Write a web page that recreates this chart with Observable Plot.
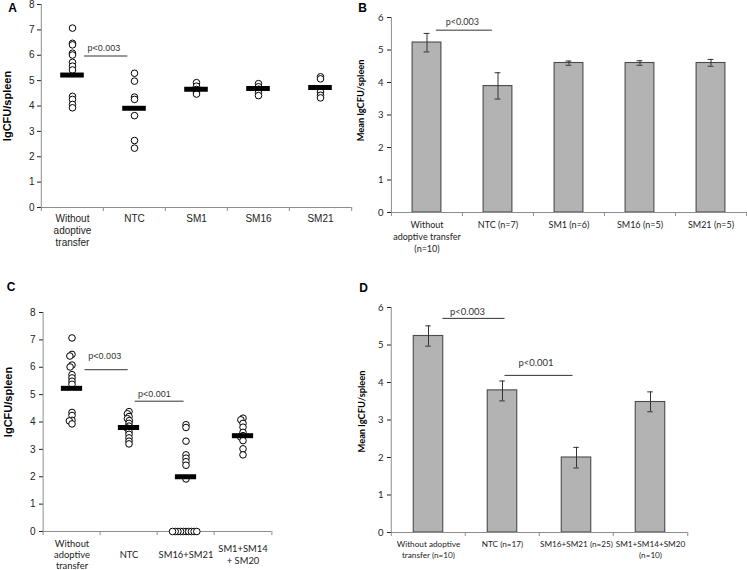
<!DOCTYPE html>
<html><head><meta charset="utf-8">
<script src="https://cdn.jsdelivr.net/npm/d3@7"></script>
<script src="https://cdn.jsdelivr.net/npm/@observablehq/plot@0.6"></script>
<style>
body{margin:0;background:#fff}
#wrap{position:relative;width:747px;height:570px;overflow:hidden;background:#fff}
#wrap svg{position:absolute;overflow:visible;max-width:none}
g[aria-label="y-axis tick"]{stroke:#8c8c8c}
.tick line{stroke:#8c8c8c}
</style></head><body><div id="wrap"></div>
<script>
// ---------- Panel A (dot plot) ----------
const catsA = ["Without adoptive transfer", "NTC", "SM1", "SM16", "SM21"];
const tickLabelsA = ["Without\nadoptive\ntransfer", "NTC", "SM1", "SM16", "SM21"];
const aWithout = [7.07, 6.47, 6.41, 6.08, 6.01, 5.72, 5.57, 5.42, 4.38, 4.26, 4.06, 3.93];
const aNTC = [5.29, 4.98, 4.35, 4.26, 3.62, 2.64, 2.34];
const aSM1 = [4.92, 4.78, 4.65, 4.55, 4.47];
const aSM16 = [4.88, 4.76, 4.66, 4.52, 4.41];
const aSM21 = [5.15, 5.07, 4.55, 4.42, 4.32];
const meanA = [5.22, 3.91, 4.66, 4.69, 4.73];
const sigTextA = ["p<0.003"], sigFromA = [0.19], sigToA = [0.89], sigLineA = [5.97], sigTextXA = [0.51], sigTextYA = [6.30];

// ---------- Panel B (bar chart) ----------
const catsB = ["Without adoptive transfer", "NTC", "SM1", "SM16", "SM21"];
const tickLabelsB = ["Without\nadoptive transfer\n(n=10)", "NTC (n=7)", "SM1 (n=6)", "SM16 (n=5)", "SM21 (n=5)"];
const meanB = [5.23, 3.89, 4.60, 4.60, 4.60];
const errLoB = [4.94, 3.49, 4.53, 4.53, 4.50];
const errHiB = [5.51, 4.30, 4.66, 4.67, 4.71];
const sigTextB = ["p<0.003"], sigFromB = [0.13], sigToB = [0.92], sigLineB = [5.61], sigTextXB = [0.50], sigTextYB = [5.85];

// ---------- Panel C (dot plot) ----------
const catsC = ["Without adoptive transfer", "NTC", "SM16+SM21", "SM1+SM14+SM20"];
const tickLabelsC = ["Without\nadoptive\ntransfer", "NTC", "SM16+SM21", "SM1+SM14\n+ SM20"];
const cWithout = [7.07, 6.47, 6.41, 6.08, 6.01, 5.73, 5.61, 5.49, 5.38, 4.35, 4.24, 4.06, 4.04, 3.93];
const cNTC = [4.38, 4.30, 4.20, 4.12, 4.05, 3.95, 3.85, 3.78, 3.65, 3.55, 3.42, 3.30, 3.20];
const cSM16SM21 = [3.90, 3.80, 3.30, 2.80, 2.68, 2.55, 2.42, 1.92, 0, 0, 0, 0, 0, 0, 0, 0, 0, 0];
const cSM1SM14SM20 = [4.14, 4.08, 3.95, 3.81, 3.62, 3.50, 3.45, 3.32, 3.02, 2.80];
const meanC = [5.23, 3.80, 2.00, 3.50];
const sigTextC = ["p<0.003", "p<0.001"], sigFromC = [0.22, 1.10], sigToC = [0.98, 1.96], sigLineC = [5.91, 4.76], sigTextXC = [0.58, 1.44], sigTextYC = [6.42, 5.03];

// ---------- Panel D (bar chart) ----------
const catsD = ["Without adoptive transfer", "NTC", "SM16+SM21", "SM1+SM14+SM20"];
const tickLabelsD = ["Without adoptive\ntransfer (n=10)", "NTC (n=17)", "SM16+SM21 (n=25)", "SM1+SM14+SM20\n(n=10)"];
const meanD = [5.24, 3.79, 2.00, 3.48];
const errLoD = [4.97, 3.51, 1.72, 3.22];
const errHiD = [5.51, 4.04, 2.27, 3.75];
const sigTextD = ["p<0.003", "p<0.001"], sigFromD = [0.19, 1.03], sigToD = [1.03, 1.95], sigLineD = [5.71, 4.19], sigTextXD = [0.53, 1.45], sigTextYD = [5.89, 4.53];

// ---------- helpers ----------
const AX = "#8c8c8c", INK = "#222", LINE = "#333";
const ARIAL = "Liberation Sans, Arial, sans-serif";
const CAL = "Lato, Carlito, Calibri, sans-serif";

function frameMarks(cats, bw, ymax) {
  const n = cats.length;
  return [
    Plot.ruleY([0], {x1: null, x2: null, stroke: AX}),
    Plot.ruleX([cats[0]], {x: null, fx: d => d, dx: -bw / 2, y1: 0, y2: ymax, stroke: AX}),
    Plot.ruleX(cats, {x: null, fx: d => d, dx: -bw / 2, y1: 0, y2: 0, insetBottom: -4, stroke: AX}),
    Plot.ruleX([cats[n - 1]], {x: null, fx: d => d, dx: bw / 2, y1: 0, y2: 0, insetBottom: -4, stroke: AX})
  ];
}
function sigMarks(cats, bw, texts, from, to, lineY, textX, textY, font) {
  return texts.flatMap((t, i) => {
    const k = Math.round(from[i]);
    const kt = Math.round(textX[i]);
    return [
      Plot.ruleY([lineY[i]], {fx: () => cats[k], insetLeft: (from[i] - k + 0.5) * bw, insetRight: (k + 0.5 - to[i]) * bw, stroke: LINE}),
      Plot.text([t], {x: null, fx: () => cats[kt], y: () => textY[i], text: d => d, dx: (textX[i] - kt) * bw, fill: LINE, ...font})
    ];
  });
}
function place(svg, left, top) {
  svg.style.left = left + "px";
  svg.style.top = top + "px";
  document.getElementById("wrap").appendChild(svg);
}
function titleMarks(cats, letter, title, lx, ly, tx, ty, titleFont) {
  return [
    Plot.text([letter], {x: null, y: null, fx: () => cats[0], frameAnchor: "top-left", dx: lx, dy: ly, text: d => d, textAnchor: "middle", lineAnchor: "middle", fontWeight: "bold", fontSize: 12, fontFamily: ARIAL, fill: "#000"}),
    Plot.text([title], {x: null, y: null, fx: () => cats[0], frameAnchor: "left", dx: tx, dy: ty, text: d => d, rotate: -90, textAnchor: "middle", lineAnchor: "middle", fontWeight: "bold", fill: "#000", ...titleFont})
  ];
}
function tickLabelMarks(cats, labels, opts) {
  return Plot.text(cats, {x: null, y: null, fx: d => d, text: (d, i) => labels[i], frameAnchor: "bottom", fill: INK, ...opts});
}
const groupRows = (cats, groups) => cats.flatMap((c, i) => groups[i].map(v => ({g: c, v})));
const barRows = (cats, mean, lo, hi) => cats.map((c, i) => ({g: c, v: mean[i], lo: lo[i], hi: hi[i]}));

// ---------- Panel A ----------
{
  const W = 373, H = 285, ml = 40, mr = 21, mt = 4, mb = 78;
  const bw = (W - ml - mr) / catsA.length;
  const pts = groupRows(catsA, [aWithout, aNTC, aSM1, aSM16, aSM21]);
  const means = catsA.map((c, i) => ({g: c, v: meanA[i]}));
  const svg = Plot.plot({
    width: W, height: H, marginLeft: ml, marginRight: mr, marginTop: mt, marginBottom: mb,
    style: {fontFamily: ARIAL, fontSize: "10px", color: INK, background: "transparent", overflow: "visible"},
    fx: {domain: catsA, padding: 0, axis: null, label: null},
    y: {domain: [0, 8], ticks: 8, tickSize: 4, tickPadding: 3, label: null},
    marks: [
      ...frameMarks(catsA, bw, 8),
      Plot.dot(pts, {x: null, fx: "g", y: "v", r: 3.3, fill: "white", stroke: "black", strokeWidth: 1}),
      Plot.tickY(means, {fx: "g", y: "v", stroke: "black", strokeWidth: 5, insetLeft: (bw - 24) / 2, insetRight: (bw - 24) / 2}),
      ...sigMarks(catsA, bw, sigTextA, sigFromA, sigToA, sigLineA, sigTextXA, sigTextYA, {fontFamily: ARIAL, fontSize: 9}),
      tickLabelMarks(catsA, tickLabelsA, {lineAnchor: "top", dy: 5.8, lineHeight: 1.2, fontFamily: ARIAL, fontSize: 10}),
      ...titleMarks(catsA, "A", "lgCFU/spleen", -29, 4, -34, 0, {fontFamily: ARIAL, fontSize: 11})
    ]
  });
  place(svg, 0, 0);
}

// ---------- Panel B ----------
{
  const W = 392, H = 285, ml = 35, mr = 1, mt = 17, mb = 73;
  const bw = (W - ml - mr) / catsB.length;
  const rows = barRows(catsB, meanB, errLoB, errHiB);
  const ins = (bw - 29) / 2, cap = (bw - 6) / 2;
  const svg = Plot.plot({
    width: W, height: H, marginLeft: ml, marginRight: mr, marginTop: mt, marginBottom: mb,
    style: {fontFamily: CAL, fontSize: "9.5px", color: INK, background: "transparent", overflow: "visible"},
    fx: {domain: catsB, padding: 0, axis: null, label: null},
    y: {domain: [0, 6], ticks: 6, tickSize: 4, tickPadding: 4, label: null},
    marks: [
      Plot.barY(rows, {fx: "g", y: "v", fill: "#b3b3b3", stroke: "#4a4a4a", strokeWidth: 1.1, insetLeft: ins, insetRight: ins}),
      ...frameMarks(catsB, bw, 6),
      Plot.ruleX(rows, {x: null, fx: "g", y1: "lo", y2: "hi", stroke: LINE}),
      Plot.tickY(rows, {fx: "g", y: "lo", stroke: LINE, insetLeft: cap, insetRight: cap}),
      Plot.tickY(rows, {fx: "g", y: "hi", stroke: LINE, insetLeft: cap, insetRight: cap}),
      ...sigMarks(catsB, bw, sigTextB, sigFromB, sigToB, sigLineB, sigTextXB, sigTextYB, {fontFamily: CAL, fontSize: 9}),
      tickLabelMarks(catsB, tickLabelsB, {lineAnchor: "top", dy: 6.3, lineHeight: 1.36, fontFamily: CAL, fontSize: 9}),
      ...titleMarks(catsB, "B", "Mean lgCFU/spleen", -29, -9.5, -30, -14.6, {fontFamily: CAL, fontSize: 9.3})
    ]
  });
  place(svg, 355, 0);
}

// ---------- Panel C ----------
{
  const W = 373, H = 285, ml = 41, mr = 101, mt = 27, mb = 39;
  const bw = (W - ml - mr) / catsC.length;
  const pts = groupRows(catsC, [cWithout, cNTC, cSM16SM21, cSM1SM14SM20]);
  const means = catsC.map((c, i) => ({g: c, v: meanC[i]}));
  const svg = Plot.plot({
    width: W, height: H, marginLeft: ml, marginRight: mr, marginTop: mt, marginBottom: mb,
    style: {fontFamily: ARIAL, fontSize: "10px", color: INK, background: "transparent", overflow: "visible"},
    fx: {domain: catsC, padding: 0, axis: null, label: null},
    y: {domain: [0, 8], ticks: 8, tickSize: 4, tickPadding: 4, label: null},
    marks: [
      ...frameMarks(catsC, bw, 8),
      Plot.dot(pts, Plot.dodgeX({anchor: "middle", padding: 0.3, r: 1.2}, {fx: "g", y: "v", r: 3.3, fill: "white", stroke: "black", strokeWidth: 1})),
      Plot.tickY(means, {fx: "g", y: "v", stroke: "black", strokeWidth: 5, insetLeft: (bw - 22) / 2, insetRight: (bw - 22) / 2}),
      ...sigMarks(catsC, bw, sigTextC, sigFromC, sigToC, sigLineC, sigTextXC, sigTextYC, {fontFamily: ARIAL, fontSize: 9}),
      tickLabelMarks(catsC, tickLabelsC, {lineAnchor: "middle", dy: 22.8, lineHeight: 1.2, fontFamily: CAL, fontSize: 9.4}),
      ...titleMarks(catsC, "C", "lgCFU/spleen", -32.5, -25, -35, -20, {fontFamily: ARIAL, fontSize: 11})
    ]
  });
  place(svg, 0, 285);
}

// ---------- Panel D ----------
{
  const W = 392, H = 285, ml = 35, mr = 59, mt = 22, mb = 38;
  const bw = (W - ml - mr) / catsD.length;
  const rows = barRows(catsD, meanD, errLoD, errHiD);
  const ins = (bw - 30) / 2, cap = (bw - 6) / 2;
  const svg = Plot.plot({
    width: W, height: H, marginLeft: ml, marginRight: mr, marginTop: mt, marginBottom: mb,
    style: {fontFamily: CAL, fontSize: "9.5px", color: INK, background: "transparent", overflow: "visible"},
    fx: {domain: catsD, padding: 0, axis: null, label: null},
    y: {domain: [0, 6], ticks: 6, tickSize: 4, tickPadding: 4, label: null},
    marks: [
      Plot.barY(rows, {fx: "g", y: "v", fill: "#b3b3b3", stroke: "#4a4a4a", strokeWidth: 1.1, insetLeft: ins, insetRight: ins}),
      ...frameMarks(catsD, bw, 6),
      Plot.ruleX(rows, {x: null, fx: "g", y1: "lo", y2: "hi", stroke: LINE}),
      Plot.tickY(rows, {fx: "g", y: "lo", stroke: LINE, insetLeft: cap, insetRight: cap}),
      Plot.tickY(rows, {fx: "g", y: "hi", stroke: LINE, insetLeft: cap, insetRight: cap}),
      ...sigMarks(catsD, bw, sigTextD, sigFromD, sigToD, sigLineD, sigTextXD, sigTextYD, {fontFamily: CAL, fontSize: 9.5}),
      tickLabelMarks(catsD, tickLabelsD, {lineAnchor: "top", dy: 7, lineHeight: 1.32, fontFamily: CAL, fontSize: 8.2}),
      ...titleMarks(catsD, "D", "Mean lgCFU/spleen", -28, -19, -29, -8.5, {fontFamily: CAL, fontSize: 9.3})
    ]
  });
  place(svg, 355, 285);
}
</script></body></html>
